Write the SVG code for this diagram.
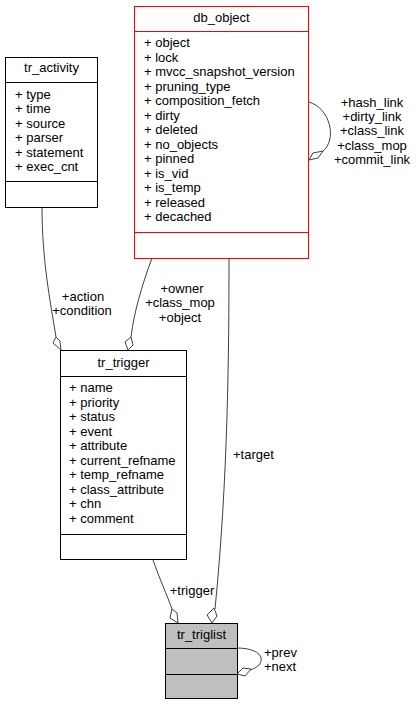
<svg xmlns="http://www.w3.org/2000/svg" width="417" height="705" viewBox="0 0 417 705">
  <style>
    text { font-family: "Liberation Sans", Arial, sans-serif; font-size: 13px; fill: #000; }
    .title { text-anchor: middle; }
    .mid { text-anchor: middle; }
    .box { fill: #fff; stroke: #000; stroke-width: 1; }
    .box-red { fill: #fff; stroke: #ff0000; stroke-width: 1; }
    .box-gray { fill: #bfbfbf; stroke: #000; stroke-width: 1; }
    .div { stroke: #000; stroke-width: 1; }
    .div-red { stroke: #ff0000; stroke-width: 1; }
    .edge { fill: none; stroke: #404040; stroke-width: 1; }
    .dia { fill: #fff; stroke: #404040; stroke-width: 1; }
  </style>

  <!-- connectors: composition edges with hollow diamonds at the owning side -->
  <g id="connectors">
    <!-- tr_activity -> tr_trigger -->
    <path class="edge" d="M42,207 C42,260 50,300 56,337"/>
    <polygon class="dia" points="61,350 53,343 56,337 60,341"/>
    <!-- db_object -> tr_trigger -->
    <path class="edge" d="M152,258 C142,285 134,312 131,337"/>
    <polygon class="dia" points="128,350 125,342 131,337 133,345"/>
    <!-- db_object self links -->
    <path class="edge" d="M309,102 C330,108 338,140 322,152"/>
    <polygon class="dia" points="309,160 313,153 323,151 318,158"/>
    <!-- db_object -> tr_triglist -->
    <path class="edge" d="M229,258 C229,350 228,480 215,609"/>
    <polygon class="dia" points="212,623 207,615 214,608 217,616"/>
    <!-- tr_trigger -> tr_triglist -->
    <path class="edge" d="M153,560 C160,580 167,595 172,609"/>
    <polygon class="dia" points="178,623 170,618 172,609 177,613"/>
    <!-- tr_triglist self links -->
    <path class="edge" d="M237,648 C256,648 266,656 259,665 C256,668 253,669 250,670"/>
    <polygon class="dia" points="237,674 243,668 251,669 245,676"/>

    <text class="mid" x="83" y="301">+action</text>
    <text class="mid" x="82" y="315">+condition</text>
    <text class="mid" x="182" y="293">+owner</text>
    <text class="mid" x="180" y="307">+class_mop</text>
    <text class="mid" x="180" y="322">+object</text>
    <text class="mid" x="372" y="107">+hash_link</text>
    <text class="mid" x="372" y="121">+dirty_link</text>
    <text class="mid" x="372" y="135">+class_link</text>
    <text class="mid" x="372" y="150">+class_mop</text>
    <text class="mid" x="372" y="164">+commit_link</text>
    <text x="233" y="459">+target</text>
    <text class="mid" x="192" y="595">+trigger</text>
    <text x="264" y="657">+prev</text>
    <text x="264" y="671">+next</text>
  </g>

  <g id="tr_activity">
    <rect class="box" x="5.5" y="57.5" width="92" height="150"/>
    <line class="div" x1="5.5" y1="82.5" x2="97.5" y2="82.5"/>
    <line class="div" x1="5.5" y1="181.5" x2="97.5" y2="181.5"/>
    <text class="title" x="51.5" y="72">tr_activity</text>
    <text x="15" y="98.5">+ type</text>
    <text x="15" y="113">+ time</text>
    <text x="15" y="127.5">+ source</text>
    <text x="15" y="142">+ parser</text>
    <text x="15" y="156.5">+ statement</text>
    <text x="15" y="171">+ exec_cnt</text>
  </g>

  <g id="db_object">
    <rect class="box-red" x="134.5" y="6.5" width="174" height="252"/>
    <line class="div-red" x1="134.5" y1="31.5" x2="308.5" y2="31.5"/>
    <line class="div-red" x1="134.5" y1="232.5" x2="308.5" y2="232.5"/>
    <text class="title" x="221.5" y="21.5">db_object</text>
    <text x="144" y="47">+ object</text>
    <text x="144" y="61.5">+ lock</text>
    <text x="144" y="76">+ mvcc_snapshot_version</text>
    <text x="144" y="90.5">+ pruning_type</text>
    <text x="144" y="105">+ composition_fetch</text>
    <text x="144" y="119.5">+ dirty</text>
    <text x="144" y="134">+ deleted</text>
    <text x="144" y="148.5">+ no_objects</text>
    <text x="144" y="163">+ pinned</text>
    <text x="144" y="177.5">+ is_vid</text>
    <text x="144" y="192">+ is_temp</text>
    <text x="144" y="206.5">+ released</text>
    <text x="144" y="221">+ decached</text>
  </g>

  <g id="tr_trigger">
    <rect class="box" x="60.5" y="350.5" width="126" height="209"/>
    <line class="div" x1="60.5" y1="376.5" x2="186.5" y2="376.5"/>
    <line class="div" x1="60.5" y1="534.5" x2="186.5" y2="534.5"/>
    <text class="title" x="123.5" y="367">tr_trigger</text>
    <text x="69" y="392">+ name</text>
    <text x="69" y="406.5">+ priority</text>
    <text x="69" y="421">+ status</text>
    <text x="69" y="435.5">+ event</text>
    <text x="69" y="450">+ attribute</text>
    <text x="69" y="464.5">+ current_refname</text>
    <text x="69" y="479">+ temp_refname</text>
    <text x="69" y="493.5">+ class_attribute</text>
    <text x="69" y="508">+ chn</text>
    <text x="69" y="522.5">+ comment</text>
  </g>

  <g id="tr_triglist">
    <rect class="box-gray" x="165.5" y="623.5" width="72" height="75"/>
    <line class="div" x1="165.5" y1="648.5" x2="237.5" y2="648.5"/>
    <line class="div" x1="165.5" y1="674.5" x2="237.5" y2="674.5"/>
    <text class="title" x="201.5" y="639">tr_triglist</text>
  </g>
</svg>
